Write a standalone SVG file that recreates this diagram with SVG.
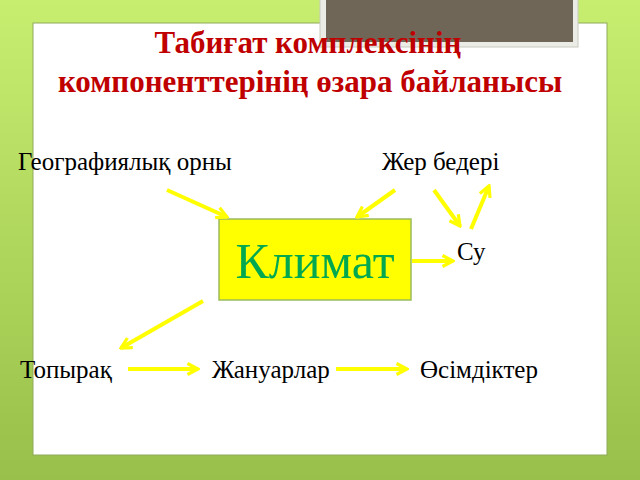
<svg xmlns="http://www.w3.org/2000/svg" width="640" height="480" viewBox="0 0 640 480">
<defs>
<linearGradient id="bg" x1="0" y1="0" x2="0" y2="1">
<stop offset="0" stop-color="#c8ee70"/>
<stop offset="1" stop-color="#98c04a"/>
</linearGradient>
<marker id="ah" viewBox="0 0 14 14" refX="12" refY="7" markerWidth="14" markerHeight="14" markerUnits="userSpaceOnUse" orient="auto">
<path d="M1.5,1.5 L12,7 L1.5,12.5" fill="none" stroke="#ffff00" stroke-width="3.2"/>
</marker>
</defs>
<style>
.lbl{font-family:"Liberation Serif","Times New Roman",serif;font-size:25px;fill:#000}
.title{font-family:"Liberation Serif","Times New Roman",serif;font-size:31px;font-weight:bold;fill:#c00000;text-anchor:middle}
.arr{stroke:#ffff00;stroke-width:4;fill:none;marker-end:url(#ah)}
</style>
<rect x="0" y="0" width="640" height="480" fill="url(#bg)"/>
<rect x="33" y="23" width="574" height="432" fill="#ffffff" stroke="#8faa5a" stroke-width="1"/>
<g id="frame">
<rect x="320" y="-5" width="258" height="52" fill="#ecece6" stroke="#c8c8c0" stroke-width="1"/>
<rect x="326" y="-5" width="247" height="47" fill="#6f6658"/>
</g>
<g id="title">
<text class="title" x="308" y="53">Табиғат комплексінің</text>
<text class="title" x="310" y="92">компоненттерінің өзара байланысы</text>
</g>
<g id="geo"><text class="lbl" x="18" y="170">Географиялық орны</text></g>
<g id="zher"><text class="lbl" x="382" y="170">Жер бедері</text></g>
<g id="su"><text class="lbl" x="457" y="260">Су</text></g>
<g id="klimat">
<rect x="219" y="219" width="192" height="81" fill="#ffff00" stroke="#9bbb59" stroke-width="1.5"/>
<text x="315" y="278" text-anchor="middle" font-family="'Liberation Serif','Times New Roman',serif" font-size="50" fill="#00a850">Климат</text>
</g>
<g id="topyrak"><text class="lbl" x="20" y="378">Топырақ</text></g>
<g id="zhanuar"><text class="lbl" x="212" y="378">Жануарлар</text></g>
<g id="osim"><text class="lbl" x="420" y="378">Өсімдіктер</text></g>
<g id="connectors">
<line class="arr" x1="167" y1="190" x2="227" y2="217"/>
<line class="arr" x1="395" y1="190" x2="357" y2="217"/>
<line class="arr" x1="434" y1="190" x2="460" y2="226"/>
<line class="arr" x1="471" y1="229" x2="489" y2="186"/>
<line class="arr" x1="412" y1="261" x2="453" y2="261"/>
<line class="arr" x1="203" y1="301" x2="121" y2="348"/>
<line class="arr" x1="128" y1="369" x2="198" y2="369"/>
<line class="arr" x1="336" y1="369" x2="407" y2="369"/>
</g>
</svg>
